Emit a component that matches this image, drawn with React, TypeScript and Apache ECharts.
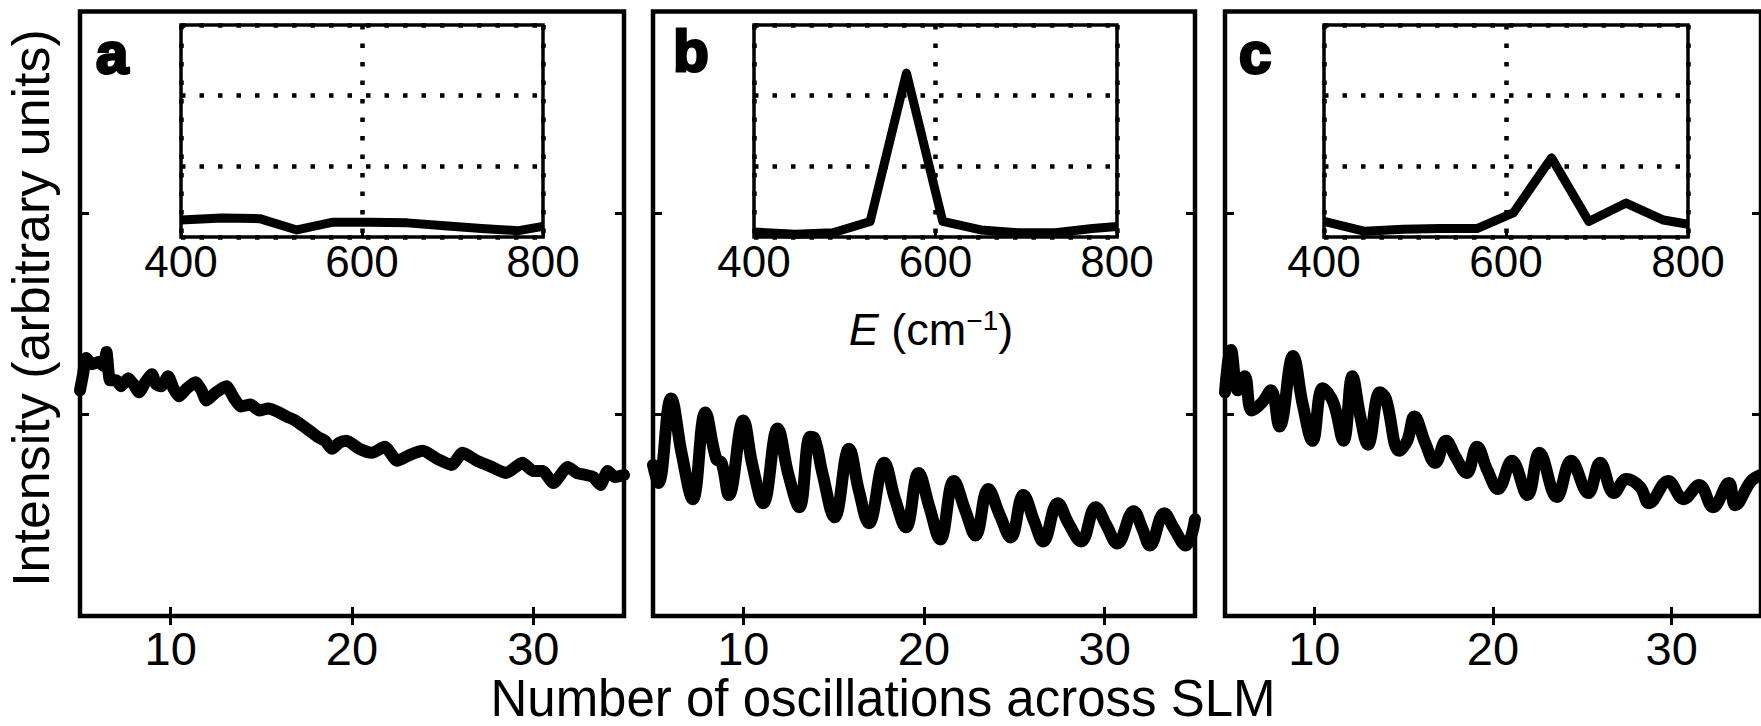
import React, { useEffect, useRef } from "react";
import * as echarts from "echarts";

// ---------- data ----------
// main panels: x = number of oscillations across SLM, y = intensity (arb. units)
const aX = [5.0, 5.15, 5.35, 5.65, 6.05, 6.3, 6.46, 6.66, 7.0, 7.26, 7.66, 7.95, 8.26, 8.6, 8.96, 9.2, 9.47, 9.86, 10.15, 10.46, 10.9, 11.37, 11.7, 11.97, 12.5, 13.07, 13.5, 13.88, 14.4, 14.88, 15.4, 15.98, 16.4, 16.88, 17.5, 18.09, 18.5, 18.9, 19.3, 19.7, 20.4, 21.1, 21.8, 22.5, 23.2, 23.9, 24.7, 25.5, 26.1, 26.9, 27.7, 28.5, 29.4, 30.0, 30.5, 31.1, 31.9, 32.4, 32.9, 33.3, 33.7, 34.1, 34.5, 35.0];
const aY = [1.12, 1.19, 1.28, 1.25, 1.26, 1.24, 1.31, 1.17, 1.17, 1.14, 1.18, 1.15, 1.11, 1.16, 1.20, 1.15, 1.14, 1.19, 1.13, 1.09, 1.13, 1.16, 1.12, 1.07, 1.11, 1.14, 1.08, 1.04, 1.05, 1.02, 1.03, 1.01, 0.99, 0.97, 0.93, 0.89, 0.87, 0.83, 0.86, 0.87, 0.83, 0.81, 0.84, 0.77, 0.80, 0.82, 0.78, 0.75, 0.81, 0.77, 0.74, 0.71, 0.76, 0.72, 0.72, 0.66, 0.74, 0.71, 0.70, 0.69, 0.65, 0.72, 0.69, 0.70];

const bX = [5.0, 5.3, 6.0, 6.6, 7.2, 7.9, 8.5, 8.8, 9.2, 10.0, 10.5, 11.1, 11.9, 12.5, 13.1, 13.7, 13.95, 14.4, 15.05, 15.85, 16.4, 16.95, 17.8, 18.4, 19.0, 19.7, 20.3, 20.9, 21.65, 22.3, 22.85, 23.55, 24.2, 24.8, 25.5, 26.1, 26.6, 27.4, 28.0, 28.7, 29.5, 30.1, 30.7, 31.6, 32.1, 32.5, 33.3, 33.8, 34.5, 35.0];
const bY = [0.75, 0.66, 1.08, 0.80, 0.58, 1.01, 0.78, 0.76, 0.60, 0.97, 0.75, 0.56, 0.93, 0.70, 0.54, 0.89, 0.88, 0.70, 0.49, 0.83, 0.62, 0.46, 0.76, 0.58, 0.44, 0.71, 0.54, 0.38, 0.67, 0.52, 0.40, 0.63, 0.50, 0.39, 0.60, 0.47, 0.37, 0.56, 0.46, 0.37, 0.54, 0.45, 0.36, 0.52, 0.43, 0.35, 0.51, 0.44, 0.35, 0.48];

const cX = [5.0, 5.33, 5.72, 6.1, 6.5, 7.08, 7.57, 8.05, 8.81, 9.35, 9.9, 10.47, 11.06, 11.63, 12.13, 12.55, 13.0, 13.67, 14.0, 14.75, 15.2, 15.6, 16.2, 16.77, 17.37, 17.9, 18.53, 19.1, 19.7, 20.28, 21.06, 21.93, 22.6, 23.57, 24.37, 25.33, 26.0, 26.77, 27.46, 28.24, 28.73, 29.8, 30.67, 31.54, 32.32, 33.2, 33.56, 34.45, 35.0];
const cY = [1.11, 1.32, 1.12, 1.19, 1.02, 1.06, 1.12, 0.94, 1.29, 1.05, 0.87, 1.13, 1.06, 0.87, 1.19, 1.0, 0.85, 1.11, 1.08, 0.82, 0.87, 0.99, 0.86, 0.76, 0.87, 0.79, 0.71, 0.84, 0.72, 0.63, 0.77, 0.60, 0.81, 0.59, 0.77, 0.61, 0.76, 0.61, 0.68, 0.64, 0.56, 0.67, 0.58, 0.65, 0.54, 0.66, 0.55, 0.67, 0.70];

// insets: E (cm^-1) spectra
const insetE = [400, 445, 487, 528, 568, 608, 650, 691, 732, 773, 800];
const insetA = [0.24, 0.27, 0.26, 0.10, 0.21, 0.21, 0.20, 0.16, 0.12, 0.09, 0.15];
const insetB = [0.07, 0.04, 0.06, 0.22, 2.32, 0.22, 0.10, 0.06, 0.06, 0.12, 0.15];
const insetC = [0.22, 0.08, 0.11, 0.12, 0.12, 0.34, 1.12, 0.22, 0.48, 0.24, 0.18];

const mainTicks = [10, 20, 30];
const panelLetters = ["a", "b", "c"];
const xTitle = "Number of oscillations across SLM";
const yTitle = "Intensity (arbitrary units)";

const FONT = '"Liberation Sans", Arial, Helvetica, sans-serif';

const zip = (xs: number[], ys: number[]) => xs.map((x, i) => [x, ys[i]]);

export default function App() {
  const ref = useRef<HTMLDivElement>(null);

  useEffect(() => {
    if (!ref.current) return;
    const chart = echarts.init(ref.current, undefined, { renderer: "svg" });

    const mainGrids = [
      { left: 80, top: 11.5, width: 544, height: 604.5 },
      { left: 653, top: 11.5, width: 542, height: 604.5 },
      { left: 1225, top: 11.5, width: 543, height: 604.5 },
    ];
    const insetGrids = [
      { left: 181, top: 25, width: 362, height: 212 },
      { left: 754, top: 25, width: 363, height: 212 },
      { left: 1324, top: 25, width: 364, height: 212 },
    ];

    const grid: any[] = [];
    const xAxis: any[] = [];
    const yAxis: any[] = [];
    const series: any[] = [];

    const mainData = [zip(aX, aY), zip(bX, bY), zip(cX, cY)];
    const insetData = [zip(insetE, insetA), zip(insetE, insetB), zip(insetE, insetC)];

    const tickStyle = { color: "#000", width: 3 };
    const dotted = { color: "#000", width: 4.5, type: [4.5, 14] };

    mainGrids.forEach((g, i) => {
      const gi = grid.length;
      grid.push({ ...g, show: true, borderColor: "#000", borderWidth: 4.5, backgroundColor: "transparent", containLabel: false });
      const xi = xAxis.length;
      ["bottom", "top"].forEach((pos) => {
        xAxis.push({
          type: "value", gridIndex: gi, position: pos, min: 5, max: 35,
          axisLine: { show: false },
          axisTick: { show: true, inside: true, length: 9, lineStyle: tickStyle, customValues: mainTicks },
          axisLabel: {
            show: pos === "bottom", customValues: mainTicks, color: "#000",
            fontSize: 47, lineHeight: 44, fontFamily: FONT, margin: 10,
          },
          splitLine: { show: false },
        });
      });
      const yi = yAxis.length;
      ["left", "right"].forEach((pos) => {
        yAxis.push({
          type: "value", gridIndex: gi, position: pos, min: 0, max: 3, interval: 1,
          axisLine: { show: false },
          axisTick: { show: true, inside: true, length: 9, lineStyle: tickStyle },
          axisLabel: { show: false },
          splitLine: { show: false },
        });
      });
      series.push({
        type: "line", xAxisIndex: xi, yAxisIndex: yi, data: mainData[i],
        showSymbol: false, smooth: i === 0 ? 0.2 : 0.4, z: 2,
        lineStyle: { color: "#000", width: 12, join: "round", cap: "round" },
      });
    });

    insetGrids.forEach((g, i) => {
      const gi = grid.length;
      grid.push({ ...g, show: true, borderColor: "#000", borderWidth: 3.5, backgroundColor: "#fff", z: 5 });
      const xi = xAxis.length;
      xAxis.push({
        type: "value", gridIndex: gi, min: 400, max: 800, interval: 200, z: 5,
        axisLine: { show: false },
        axisTick: { show: true, inside: true, length: 6, lineStyle: tickStyle },
        axisLabel: { show: true, color: "#000", fontSize: 44, fontFamily: FONT, margin: 2 },
        splitLine: { show: true, lineStyle: dotted },
      });
      const yi = yAxis.length;
      yAxis.push({
        type: "value", gridIndex: gi, min: 0, max: 3, interval: 1, z: 5,
        axisLine: { show: false },
        axisTick: { show: false },
        axisLabel: { show: false },
        splitLine: { show: true, lineStyle: dotted },
      });
      series.push({
        type: "line", xAxisIndex: xi, yAxisIndex: yi, data: insetData[i],
        showSymbol: false, smooth: false, z: 6,
        lineStyle: { color: "#000", width: 9, join: "round", cap: "butt" },
      });
    });

    const letterPos = [
      [112, 52],
      [691, 50],
      [1255, 52],
    ];

    const graphic: any[] = [
      ...panelLetters.map((t, i) => ({
        type: "text", x: letterPos[i][0], y: letterPos[i][1], z: 10,
        style: {
          text: t, font: `bold 58px ${FONT}`, fill: "#000", stroke: "#000", lineWidth: 3,
          textAlign: "center", textVerticalAlign: "middle",
        },
      })),
      {
        type: "text", x: 883, y: 698, z: 10,
        style: { text: xTitle, font: `51px ${FONT}`, fill: "#000", textAlign: "center", textVerticalAlign: "middle" },
      },
      {
        type: "text", x: 31, y: 308, rotation: Math.PI / 2, z: 10,
        style: { text: yTitle, font: `52px ${FONT}`, fill: "#000", textAlign: "center", textVerticalAlign: "middle" },
      },
      {
        type: "text", x: 931, y: 329, z: 10,
        style: {
          text: "{i|E} (cm{s|−1})",
          font: `45px ${FONT}`, fill: "#000", textAlign: "center", textVerticalAlign: "middle",
          rich: {
            i: { fontStyle: "italic", fontSize: 45, fontFamily: FONT, fill: "#000" },
            s: { fontSize: 28, fontFamily: FONT, fill: "#000", verticalAlign: "top" },
          },
        },
      },
    ];

    chart.setOption({
      animation: false,
      backgroundColor: "#fff",
      grid, xAxis, yAxis, series, graphic,
    });

    return () => chart.dispose();
  }, []);

  return (
    <div
      ref={ref}
      style={{ position: "absolute", left: 0, top: 0, width: 1761, height: 726, background: "#fff" }}
    />
  );
}
